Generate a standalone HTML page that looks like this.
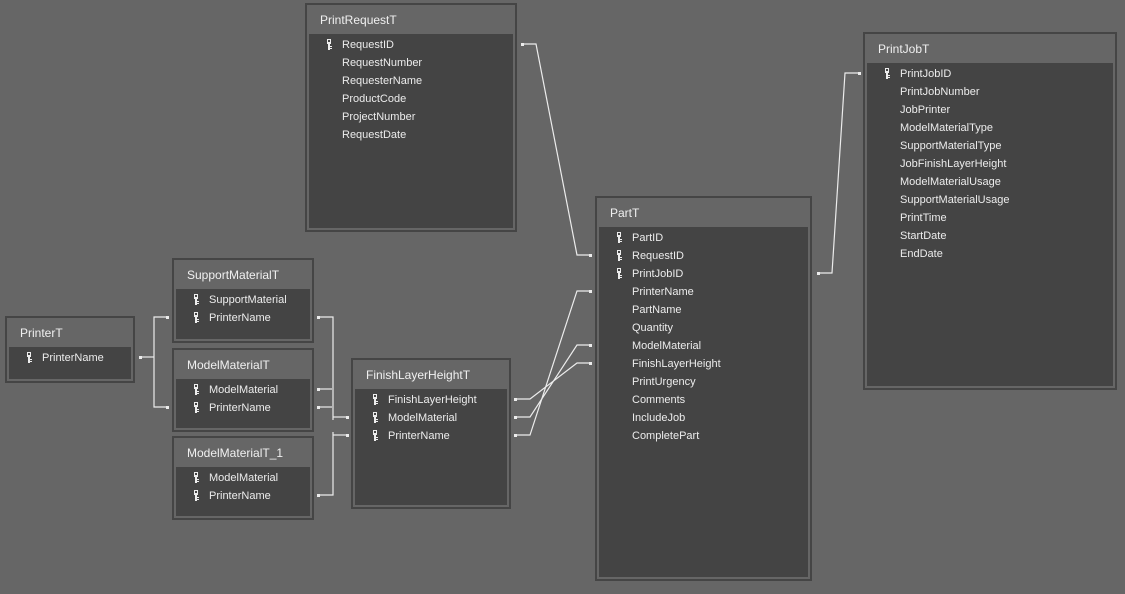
<!DOCTYPE html>
<html><head><meta charset="utf-8">
<style>
html,body{margin:0;padding:0;}
body{width:1125px;height:594px;background:#666666;position:relative;overflow:hidden;font-family:"Liberation Sans",sans-serif;font-size:11px;color:#ececec;}
.t{position:absolute;border:2px solid #454545;box-sizing:border-box;background:#666666;}
.ti{position:absolute;left:13px;top:8px;font-size:12px;color:#f0f0f0;}
.in{position:absolute;left:2px;right:2px;bottom:2px;background:#444444;}
.r{position:absolute;left:33px;white-space:nowrap;line-height:14px;margin-top:1px;}
.k{position:absolute;left:-16px;top:1px;width:7px;height:11px;}
svg.c{position:absolute;left:0;top:0;}
</style></head><body>

<div class="t" style="left:305px;top:3px;width:212px;height:229px;"><div class="ti">PrintRequestT</div>
<div class="in" style="top:29px;">
<div class="r" style="top:3px;"><svg class="k" viewBox="0 0 7 11"><rect x="1" y="0" width="4" height="5" fill="#eee"/><rect x="2" y="1" width="2" height="2" fill="#444"/><rect x="2" y="5" width="2" height="6" fill="#eee"/><rect x="4" y="7" width="2" height="1" fill="#eee"/><rect x="4" y="9" width="2" height="1" fill="#eee"/></svg>RequestID</div>
<div class="r" style="top:21px;">RequestNumber</div>
<div class="r" style="top:39px;">RequesterName</div>
<div class="r" style="top:57px;">ProductCode</div>
<div class="r" style="top:75px;">ProjectNumber</div>
<div class="r" style="top:93px;">RequestDate</div>
</div></div>

<div class="t" style="left:5px;top:316px;width:130px;height:67px;"><div class="ti">PrinterT</div>
<div class="in" style="top:29px;">
<div class="r" style="top:3px;"><svg class="k" viewBox="0 0 7 11"><rect x="1" y="0" width="4" height="5" fill="#eee"/><rect x="2" y="1" width="2" height="2" fill="#444"/><rect x="2" y="5" width="2" height="6" fill="#eee"/><rect x="4" y="7" width="2" height="1" fill="#eee"/><rect x="4" y="9" width="2" height="1" fill="#eee"/></svg>PrinterName</div>
</div></div>

<div class="t" style="left:172px;top:258px;width:142px;height:85px;"><div class="ti">SupportMaterialT</div>
<div class="in" style="top:29px;">
<div class="r" style="top:3px;"><svg class="k" viewBox="0 0 7 11"><rect x="1" y="0" width="4" height="5" fill="#eee"/><rect x="2" y="1" width="2" height="2" fill="#444"/><rect x="2" y="5" width="2" height="6" fill="#eee"/><rect x="4" y="7" width="2" height="1" fill="#eee"/><rect x="4" y="9" width="2" height="1" fill="#eee"/></svg>SupportMaterial</div>
<div class="r" style="top:21px;"><svg class="k" viewBox="0 0 7 11"><rect x="1" y="0" width="4" height="5" fill="#eee"/><rect x="2" y="1" width="2" height="2" fill="#444"/><rect x="2" y="5" width="2" height="6" fill="#eee"/><rect x="4" y="7" width="2" height="1" fill="#eee"/><rect x="4" y="9" width="2" height="1" fill="#eee"/></svg>PrinterName</div>
</div></div>

<div class="t" style="left:172px;top:348px;width:142px;height:84px;"><div class="ti">ModelMaterialT</div>
<div class="in" style="top:29px;">
<div class="r" style="top:3px;"><svg class="k" viewBox="0 0 7 11"><rect x="1" y="0" width="4" height="5" fill="#eee"/><rect x="2" y="1" width="2" height="2" fill="#444"/><rect x="2" y="5" width="2" height="6" fill="#eee"/><rect x="4" y="7" width="2" height="1" fill="#eee"/><rect x="4" y="9" width="2" height="1" fill="#eee"/></svg>ModelMaterial</div>
<div class="r" style="top:21px;"><svg class="k" viewBox="0 0 7 11"><rect x="1" y="0" width="4" height="5" fill="#eee"/><rect x="2" y="1" width="2" height="2" fill="#444"/><rect x="2" y="5" width="2" height="6" fill="#eee"/><rect x="4" y="7" width="2" height="1" fill="#eee"/><rect x="4" y="9" width="2" height="1" fill="#eee"/></svg>PrinterName</div>
</div></div>

<div class="t" style="left:172px;top:436px;width:142px;height:84px;"><div class="ti">ModelMaterialT_1</div>
<div class="in" style="top:29px;">
<div class="r" style="top:3px;"><svg class="k" viewBox="0 0 7 11"><rect x="1" y="0" width="4" height="5" fill="#eee"/><rect x="2" y="1" width="2" height="2" fill="#444"/><rect x="2" y="5" width="2" height="6" fill="#eee"/><rect x="4" y="7" width="2" height="1" fill="#eee"/><rect x="4" y="9" width="2" height="1" fill="#eee"/></svg>ModelMaterial</div>
<div class="r" style="top:21px;"><svg class="k" viewBox="0 0 7 11"><rect x="1" y="0" width="4" height="5" fill="#eee"/><rect x="2" y="1" width="2" height="2" fill="#444"/><rect x="2" y="5" width="2" height="6" fill="#eee"/><rect x="4" y="7" width="2" height="1" fill="#eee"/><rect x="4" y="9" width="2" height="1" fill="#eee"/></svg>PrinterName</div>
</div></div>

<div class="t" style="left:351px;top:358px;width:160px;height:151px;"><div class="ti">FinishLayerHeightT</div>
<div class="in" style="top:29px;">
<div class="r" style="top:3px;"><svg class="k" viewBox="0 0 7 11"><rect x="1" y="0" width="4" height="5" fill="#eee"/><rect x="2" y="1" width="2" height="2" fill="#444"/><rect x="2" y="5" width="2" height="6" fill="#eee"/><rect x="4" y="7" width="2" height="1" fill="#eee"/><rect x="4" y="9" width="2" height="1" fill="#eee"/></svg>FinishLayerHeight</div>
<div class="r" style="top:21px;"><svg class="k" viewBox="0 0 7 11"><rect x="1" y="0" width="4" height="5" fill="#eee"/><rect x="2" y="1" width="2" height="2" fill="#444"/><rect x="2" y="5" width="2" height="6" fill="#eee"/><rect x="4" y="7" width="2" height="1" fill="#eee"/><rect x="4" y="9" width="2" height="1" fill="#eee"/></svg>ModelMaterial</div>
<div class="r" style="top:39px;"><svg class="k" viewBox="0 0 7 11"><rect x="1" y="0" width="4" height="5" fill="#eee"/><rect x="2" y="1" width="2" height="2" fill="#444"/><rect x="2" y="5" width="2" height="6" fill="#eee"/><rect x="4" y="7" width="2" height="1" fill="#eee"/><rect x="4" y="9" width="2" height="1" fill="#eee"/></svg>PrinterName</div>
</div></div>

<div class="t" style="left:595px;top:196px;width:217px;height:385px;"><div class="ti">PartT</div>
<div class="in" style="top:29px;">
<div class="r" style="top:3px;"><svg class="k" viewBox="0 0 7 11"><rect x="1" y="0" width="4" height="5" fill="#eee"/><rect x="2" y="1" width="2" height="2" fill="#444"/><rect x="2" y="5" width="2" height="6" fill="#eee"/><rect x="4" y="7" width="2" height="1" fill="#eee"/><rect x="4" y="9" width="2" height="1" fill="#eee"/></svg>PartID</div>
<div class="r" style="top:21px;"><svg class="k" viewBox="0 0 7 11"><rect x="1" y="0" width="4" height="5" fill="#eee"/><rect x="2" y="1" width="2" height="2" fill="#444"/><rect x="2" y="5" width="2" height="6" fill="#eee"/><rect x="4" y="7" width="2" height="1" fill="#eee"/><rect x="4" y="9" width="2" height="1" fill="#eee"/></svg>RequestID</div>
<div class="r" style="top:39px;"><svg class="k" viewBox="0 0 7 11"><rect x="1" y="0" width="4" height="5" fill="#eee"/><rect x="2" y="1" width="2" height="2" fill="#444"/><rect x="2" y="5" width="2" height="6" fill="#eee"/><rect x="4" y="7" width="2" height="1" fill="#eee"/><rect x="4" y="9" width="2" height="1" fill="#eee"/></svg>PrintJobID</div>
<div class="r" style="top:57px;">PrinterName</div>
<div class="r" style="top:75px;">PartName</div>
<div class="r" style="top:93px;">Quantity</div>
<div class="r" style="top:111px;">ModelMaterial</div>
<div class="r" style="top:129px;">FinishLayerHeight</div>
<div class="r" style="top:147px;">PrintUrgency</div>
<div class="r" style="top:165px;">Comments</div>
<div class="r" style="top:183px;">IncludeJob</div>
<div class="r" style="top:201px;">CompletePart</div>
</div></div>

<div class="t" style="left:863px;top:32px;width:254px;height:358px;"><div class="ti">PrintJobT</div>
<div class="in" style="top:29px;">
<div class="r" style="top:3px;"><svg class="k" viewBox="0 0 7 11"><rect x="1" y="0" width="4" height="5" fill="#eee"/><rect x="2" y="1" width="2" height="2" fill="#444"/><rect x="2" y="5" width="2" height="6" fill="#eee"/><rect x="4" y="7" width="2" height="1" fill="#eee"/><rect x="4" y="9" width="2" height="1" fill="#eee"/></svg>PrintJobID</div>
<div class="r" style="top:21px;">PrintJobNumber</div>
<div class="r" style="top:39px;">JobPrinter</div>
<div class="r" style="top:57px;">ModelMaterialType</div>
<div class="r" style="top:75px;">SupportMaterialType</div>
<div class="r" style="top:93px;">JobFinishLayerHeight</div>
<div class="r" style="top:111px;">ModelMaterialUsage</div>
<div class="r" style="top:129px;">SupportMaterialUsage</div>
<div class="r" style="top:147px;">PrintTime</div>
<div class="r" style="top:165px;">StartDate</div>
<div class="r" style="top:183px;">EndDate</div>
</div></div>

<svg class="c" width="1125" height="594" viewBox="0 0 1125 594">
<g fill="none" stroke="#ececec" stroke-width="1.2">
<polyline points="522,44 536,44 577,255 591,255"/>
<polyline points="818,273 832,273 845,73 860,73"/>
<polyline points="515,399 530,399 577,363 591,363"/>
<polyline points="515,417 530,417 577,345 591,345"/>
<polyline points="515,435 530,435 577,291 591,291"/>
<polyline points="140,357 154,357"/>
<polyline points="167,317 154,317 154,407 167,407"/>
<polyline points="318,317 333,317 333,420"/>
<polyline points="333,432 333,495 318,495"/>
<polyline points="318,389 332,389"/>
<polyline points="318,407 332,407"/>
<polyline points="333,417 347,417"/>
<polyline points="333,435 347,435"/>
</g>
<g fill="#ececec">
<rect x="521" y="43" width="3" height="3"/><rect x="589" y="254" width="3" height="3"/>
<rect x="817" y="272" width="3" height="3"/><rect x="858" y="72" width="3" height="3"/>
<rect x="514" y="398" width="3" height="3"/><rect x="514" y="416" width="3" height="3"/><rect x="514" y="434" width="3" height="3"/>
<rect x="589" y="362" width="3" height="3"/><rect x="589" y="344" width="3" height="3"/><rect x="589" y="290" width="3" height="3"/>
<rect x="139" y="356" width="3" height="3"/><rect x="166" y="316" width="3" height="3"/><rect x="166" y="406" width="3" height="3"/>
<rect x="317" y="316" width="3" height="3"/><rect x="317" y="494" width="3" height="3"/><rect x="317" y="388" width="3" height="3"/><rect x="317" y="406" width="3" height="3"/>
<rect x="346" y="416" width="3" height="3"/><rect x="346" y="434" width="3" height="3"/>
</g>
</svg>
</body></html>
